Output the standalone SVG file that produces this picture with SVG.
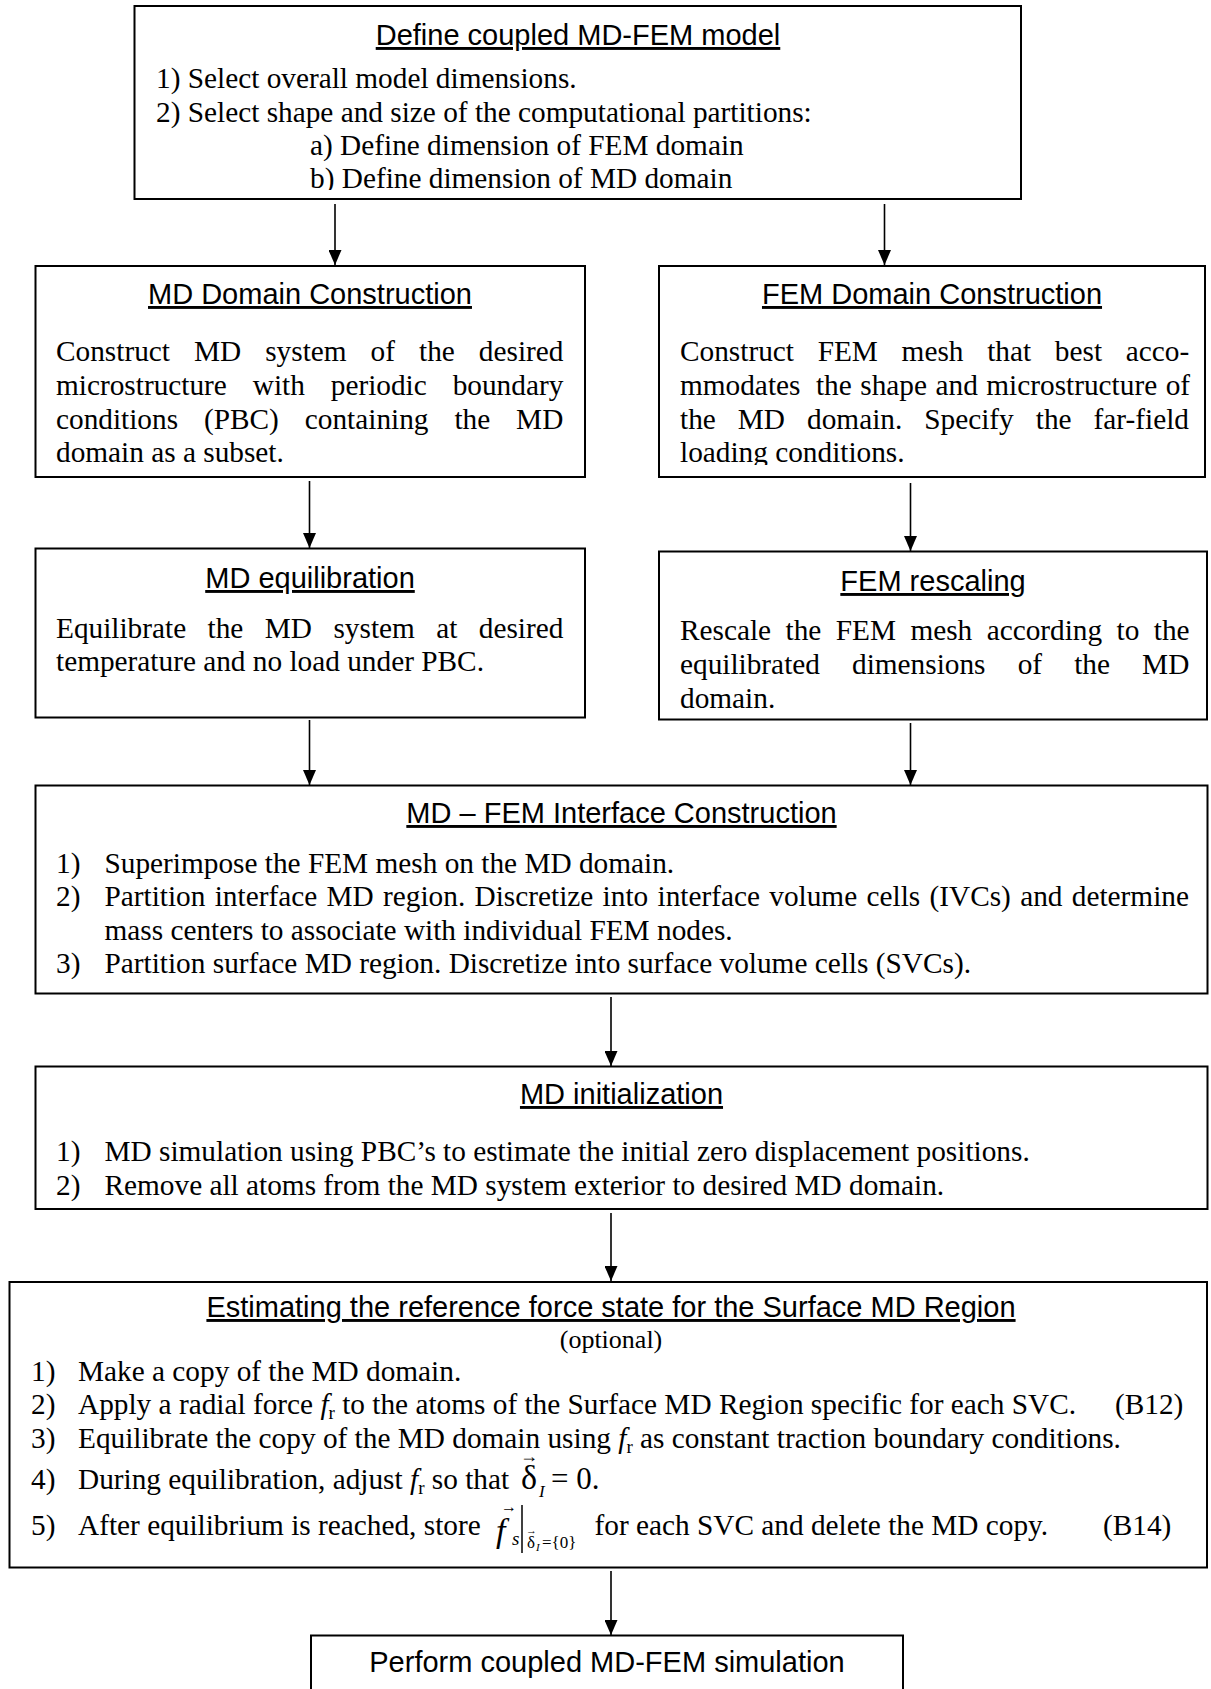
<svg xmlns="http://www.w3.org/2000/svg" width="1211" height="1689" viewBox="0 0 1211 1689">
<style>
.box{fill:#fff;stroke:#000;stroke-width:2}
.t{font-family:"Liberation Sans",Arial,sans-serif;font-size:29px;text-anchor:middle;text-decoration:underline}
.b{font-family:"Liberation Serif","Times New Roman",serif;font-size:29.3px}
.i{font-style:italic}
.n{font-style:normal}
.conn line{stroke:#000;stroke-width:1.6}
</style>
<defs>
<marker id="ah" markerWidth="15" markerHeight="13" refX="15" refY="6.5" orient="auto" markerUnits="userSpaceOnUse"><path d="M0,0 L15,6.5 L0,13 Z" fill="#000"/></marker>
<clipPath id="c1"><rect x="134" y="6" width="887" height="184"/></clipPath>
<clipPath id="c2r"><rect x="659" y="266" width="546" height="199"/></clipPath>
</defs>
<rect width="1211" height="1689" fill="#fff"/>

<g id="conn" class="conn">
<line x1="335" y1="204" x2="335" y2="265" marker-end="url(#ah)"/>
<line x1="884.5" y1="204" x2="884.5" y2="265" marker-end="url(#ah)"/>
<line x1="309.5" y1="481" x2="309.5" y2="548" marker-end="url(#ah)"/>
<line x1="910.5" y1="483" x2="910.5" y2="551" marker-end="url(#ah)"/>
<line x1="309.5" y1="720" x2="309.5" y2="785" marker-end="url(#ah)"/>
<line x1="910.5" y1="723" x2="910.5" y2="785" marker-end="url(#ah)"/>
<line x1="611" y1="997" x2="611" y2="1066" marker-end="url(#ah)"/>
<line x1="611" y1="1213" x2="611" y2="1281" marker-end="url(#ah)"/>
<line x1="611" y1="1571" x2="611" y2="1635" marker-end="url(#ah)"/>
</g>

<g id="n1">
<rect class="box" x="134.5" y="6" width="886.5" height="193"/>
<text class="t" x="578" y="45">Define coupled MD-FEM model</text>
<g clip-path="url(#c1)" class="b">
<text x="156" y="88">1) Select overall model dimensions.</text>
<text x="156" y="122">2) Select shape and size of the computational partitions:</text>
<text x="310" y="155">a) Define dimension of FEM domain</text>
<text x="310" y="188">b) Define dimension of MD domain</text>
</g>
</g>

<g id="n2">
<rect class="box" x="35.5" y="266" width="549.5" height="211"/>
<text class="t" x="310" y="304">MD Domain Construction</text>
<g class="b">
<text x="56" y="361" word-spacing="16.7">Construct MD system of the desired</text>
<text x="56" y="395" word-spacing="18.6">microstructure with periodic boundary</text>
<text x="56" y="429" word-spacing="18.6">conditions (PBC) containing the MD</text>
<text x="56" y="462">domain as a subset.</text>
</g>
</g>

<g id="n3">
<rect class="box" x="659" y="266" width="546" height="211"/>
<text class="t" x="932" y="304">FEM Domain Construction</text>
<g class="b" clip-path="url(#c2r)">
<text x="680" y="361" word-spacing="16.4">Construct FEM mesh that best acco-</text>
<text x="680" y="395" word-spacing="1.2">mmodates<tspan dx="7"> the shape and microstructure of</tspan></text>
<text x="680" y="429" word-spacing="14.7">the MD domain. Specify the far-field</text>
<text x="680" y="462">loading conditions.</text>
</g>
</g>

<g id="n4">
<rect class="box" x="35.5" y="548.5" width="549.5" height="169"/>
<text class="t" x="310" y="588">MD equilibration</text>
<g class="b">
<text x="56" y="638" word-spacing="14.1">Equilibrate the MD system at desired</text>
<text x="56" y="671">temperature and no load under PBC.</text>
</g>
</g>

<g id="n5">
<rect class="box" x="659" y="551.5" width="548" height="168"/>
<text class="t" x="933" y="591">FEM rescaling</text>
<g class="b">
<text x="680" y="640" word-spacing="7.1">Rescale the FEM mesh according to the</text>
<text x="680" y="674" word-spacing="24.8">equilibrated dimensions of the MD</text>
<text x="680" y="708">domain.</text>
</g>
</g>

<g id="n6">
<rect class="box" x="35.5" y="785.5" width="1172" height="208"/>
<text class="t" x="621.5" y="823">MD – FEM Interface Construction</text>
<g class="b">
<text x="56" y="873">1)</text>
<text x="104.5" y="873">Superimpose the FEM mesh on the MD domain.</text>
<text x="56" y="906">2)</text>
<text x="104.5" y="906" word-spacing="2">Partition interface MD region. Discretize into interface volume cells (IVCs) and determine</text>
<text x="104.5" y="940">mass centers to associate with individual FEM nodes.</text>
<text x="56" y="973">3)</text>
<text x="104.5" y="973">Partition surface MD region. Discretize into surface volume cells (SVCs).</text>
</g>
</g>

<g id="n7">
<rect class="box" x="35.5" y="1066.5" width="1172" height="142.5"/>
<text class="t" x="621.5" y="1104">MD initialization</text>
<g class="b">
<text x="56" y="1161">1)</text>
<text x="104.5" y="1161">MD simulation using PBC’s to estimate the initial zero displacement positions.</text>
<text x="56" y="1195">2)</text>
<text x="104.5" y="1195">Remove all atoms from the MD system exterior to desired MD domain.</text>
</g>
</g>

<g id="n8">
<rect class="box" x="9.5" y="1282" width="1197.5" height="285.5"/>
<text class="t" x="611" y="1317">Estimating the reference force state for the Surface MD Region</text>
<g class="b">
<text x="611" y="1348" font-size="26" text-anchor="middle">(optional)</text>
<text x="31" y="1381">1)</text>
<text x="78" y="1381">Make a copy of the MD domain.</text>
<text x="31" y="1414">2)</text>
<text x="78" y="1414">Apply a radial force <tspan class="i">f</tspan><tspan font-size="19" dy="5">r</tspan><tspan dy="-5"> to the atoms of the Surface MD Region specific for each SVC.</tspan></text>
<text x="1115" y="1414">(B12)</text>
<text x="31" y="1448">3)</text>
<text x="78" y="1448">Equilibrate the copy of the MD domain using <tspan class="i">f</tspan><tspan font-size="19" dy="5">r</tspan><tspan dy="-5"> as constant traction boundary conditions.</tspan></text>
<text x="31" y="1489">4)</text>
<text x="78" y="1489">During equilibration, adjust <tspan class="i">f</tspan><tspan font-size="19" dy="5">r</tspan><tspan dy="-5"> so that</tspan></text>
<text x="521" y="1489" font-size="34">δ<tspan x="520" y="1462" font-size="18">→</tspan><tspan x="539" y="1497" font-size="17" class="i">I</tspan><tspan x="551" y="1489" font-size="31">= 0.</tspan></text>
<text x="31" y="1535">5)</text>
<text x="78" y="1535">After equilibrium is reached, store</text>
<text x="496" y="1542" font-size="34" class="i">f<tspan x="501" y="1512" font-size="16" class="n">→</tspan><tspan x="512" y="1545" font-size="19">s</tspan></text>
<line x1="522" y1="1505" x2="522" y2="1553" stroke="#000" stroke-width="1.5"/>
<text x="527" y="1548" font-size="17">δ<tspan x="526" y="1534" font-size="11">→</tspan><tspan x="536" y="1551" font-size="11" class="i">I</tspan><tspan x="542" y="1548" font-size="17">={0}</tspan></text>
<text x="594.5" y="1535">for each SVC and delete the MD copy.</text>
<text x="1103" y="1535">(B14)</text>
</g>
</g>

<g id="n9">
<rect class="box" x="311" y="1635.5" width="592" height="70"/>
<text x="607" y="1672" font-family="Liberation Sans, Arial, sans-serif" font-size="29" text-anchor="middle">Perform coupled MD-FEM simulation</text>
</g>
</svg>
